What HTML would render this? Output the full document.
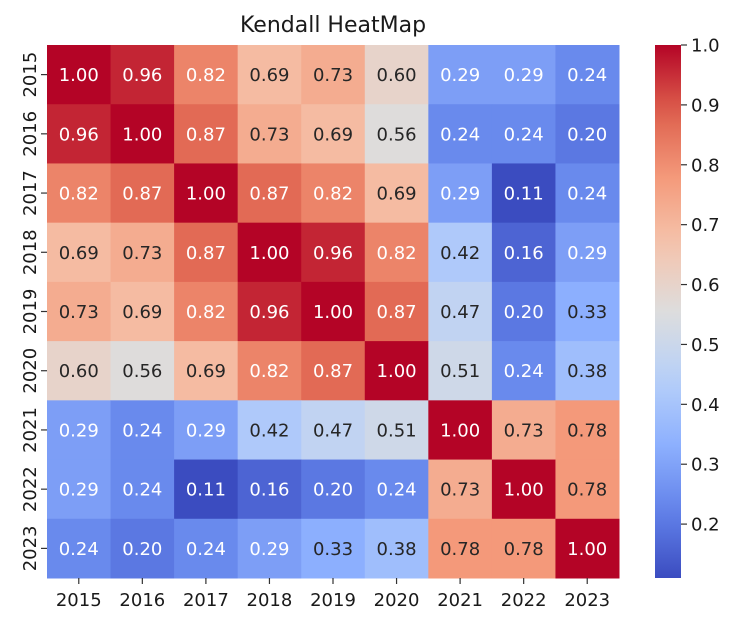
<!DOCTYPE html>
<html><head><meta charset="utf-8"><style>
body{margin:0;background:#fff;}
svg text{font-family:"DejaVu Sans","Liberation Sans",sans-serif;}
</style></head><body>
<svg id="c" width="741" height="625" xmlns="http://www.w3.org/2000/svg">
<defs><linearGradient id="cg" x1="0" y1="1" x2="0" y2="0"></linearGradient></defs>
<text x="333" y="32" font-size="22" text-anchor="middle" fill="#1a1a1a">Kendall HeatMap</text>
<g id="cells"></g><g id="axes"></g>
<rect x="655" y="45" width="26" height="533" fill="url(#cg)"/>
<g id="cb"></g>
</svg>
<script>
const years=["2015","2016","2017","2018","2019","2020","2021","2022","2023"];
const values=[
[1.00,0.96,0.82,0.69,0.73,0.60,0.29,0.29,0.24],
[0.96,1.00,0.87,0.73,0.69,0.56,0.24,0.24,0.20],
[0.82,0.87,1.00,0.87,0.82,0.69,0.29,0.11,0.24],
[0.69,0.73,0.87,1.00,0.96,0.82,0.42,0.16,0.29],
[0.73,0.69,0.82,0.96,1.00,0.87,0.47,0.20,0.33],
[0.60,0.56,0.69,0.82,0.87,1.00,0.51,0.24,0.38],
[0.29,0.24,0.29,0.42,0.47,0.51,1.00,0.73,0.78],
[0.29,0.24,0.11,0.16,0.20,0.24,0.73,1.00,0.78],
[0.24,0.20,0.24,0.29,0.33,0.38,0.78,0.78,1.00]];
const cbTicks=[0.2,0.3,0.4,0.5,0.6,0.7,0.8,0.9,1.0];
const vmin=0.11,vmax=1.0;
const X0=47,Y0=45,W=572,H=533;
const cm=[[59,76,192],[98,130,234],[141,176,254],[184,208,249],[221,221,221],[245,196,173],[244,154,123],[222,96,77],[180,4,38]];
function col(v){let t=Math.max(0,Math.min(1,(v-vmin)/(vmax-vmin)))*8;let i=Math.min(7,Math.floor(t)),f=t-i;
return cm[i].map((c,k)=>Math.round(c+(cm[i+1][k]-c)*f));}
function lum(c){const l=c.map(x=>{x/=255;return x<=0.03928?x/12.92:Math.pow((x+0.055)/1.055,2.4)});return .2126*l[0]+.7152*l[1]+.0722*l[2];}
const NS="http://www.w3.org/2000/svg";
function mk(t,a,p){const e=document.createElementNS(NS,t);for(const k in a)e.setAttribute(k,a[k]);p.appendChild(e);return e;}
const n=years.length,cw=W/n,ch=H/n;
const xS=i=>X0+i*cw,yS=j=>Y0+j*ch;
const g=document.getElementById('cells'),ax=document.getElementById('axes');
values.forEach((row,j)=>row.forEach((v,i)=>{
const c=col(v);
const r=mk('rect',{x:xS(i),y:yS(j),width:cw+0.5,height:ch+0.5,fill:`rgb(${c})`},g);


const t=mk('text',{x:xS(i)+cw/2,y:yS(j)+ch/2+6.5,'font-size':18,'text-anchor':'middle',fill:lum(c)>0.408?'#262626':'#ffffff'},g);
t.textContent=v.toFixed(2);


}));
years.forEach((y,i)=>{
mk('line',{x1:xS(i)+cw/2,x2:xS(i)+cw/2,y1:Y0+H,y2:Y0+H+6,stroke:'#333','stroke-width':1.2},ax);
const t=mk('text',{x:xS(i)+cw/2,y:Y0+H+28,'font-size':18,'text-anchor':'middle',fill:'#1a1a1a'},ax);
t.textContent=y;


const cy=yS(i)+ch/2;
mk('line',{x1:X0-6,x2:X0,y1:cy,y2:cy,stroke:'#333','stroke-width':1.2},ax);
const t2=mk('text',{x:0,y:0,'font-size':18,'text-anchor':'middle',fill:'#1a1a1a',transform:`translate(36,${cy}) rotate(-90)`},ax);
t2.textContent=y;


});
const grad=document.getElementById('cg');
for(let k=0;k<=20;k++){const v=vmin+(vmax-vmin)*k/20;mk('stop',{offset:(k/20),'stop-color':`rgb(${col(v)})`},grad);}
const cb=document.getElementById('cb');
cbTicks.forEach(v=>{const y=Y0+H-(v-vmin)/(vmax-vmin)*H;
mk('line',{x1:681,x2:687,y1:y,y2:y,stroke:'#333','stroke-width':1.2},cb);
const t=mk('text',{x:691,y:y+6.5,'font-size':18,fill:'#1a1a1a'},cb);
t.textContent=v.toFixed(1);


});
</script>
</body></html>
